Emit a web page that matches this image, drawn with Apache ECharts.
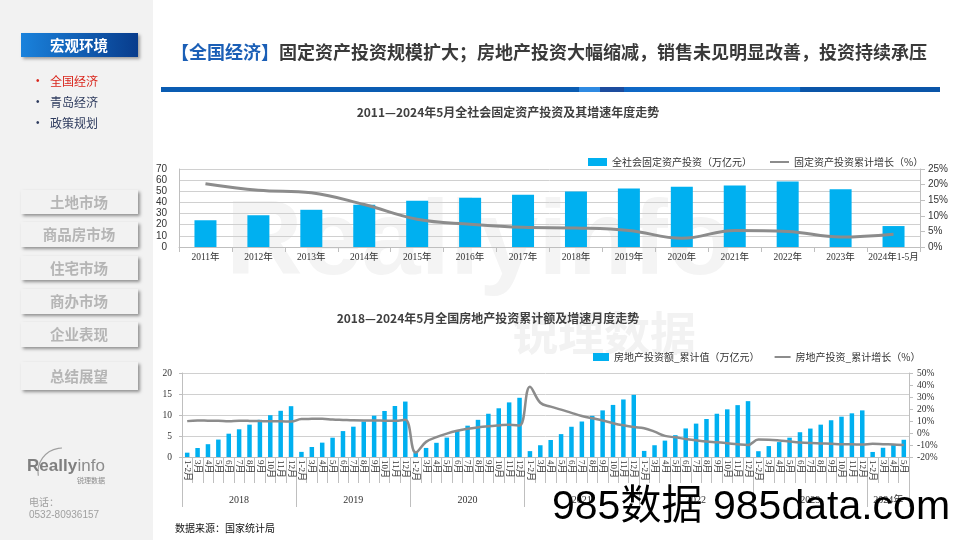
<!DOCTYPE html>
<html><head><meta charset="utf-8">
<script src="https://cdn.jsdelivr.net/npm/echarts@6/dist/echarts.min.js"></script>
<style>html,body{margin:0;padding:0;background:#fff;}#c{width:960px;height:540px;}</style>
</head><body><div id="c"></div>
<script>
// ---------- Chart 1 data ----------
const faiYears = ['2011年','2012年','2013年','2014年','2015年','2016年','2017年','2018年','2019年','2020年','2021年','2022年','2023年','2024年1-5月'];
const faiValue = [24.0, 28.5, 33.4, 37.9, 41.5, 44.2, 47.0, 49.7, 52.5, 54.0, 55.2, 58.8, 51.8, 18.8];
const faiGrowth = [20.3, 18.2, 17.4, 13.6, 8.9, 7.3, 6.3, 6.1, 5.3, 2.8, 5.3, 5.0, 3.2, 4.1];

// ---------- Chart 2 data ----------
const yearGroups = ['2018','2019','2020','2021','2022','2023','2024年'];
const months11 = ['1-2月','3月','4月','5月','6月','7月','8月','9月','10月','11月','12月'];
const months2024 = ['1-2月','3月','4月','5月'];
const reInvest2018 = [1.03, 2.14, 3.05, 4.15, 5.55, 6.6, 7.7, 8.86, 9.95, 11.0, 12.1];
const reInvest2019 = [1.22, 2.38, 3.42, 4.6, 6.17, 7.22, 8.45, 9.84, 10.96, 12.14, 13.2];
const reInvest2020 = [1.0, 2.16, 3.38, 4.62, 6.28, 7.46, 8.85, 10.3, 11.6, 13.0, 14.1];
const reInvest2021 = [1.4, 2.8, 4.05, 5.45, 7.2, 8.45, 9.8, 11.1, 12.4, 13.7, 14.8];
const reInvest2022 = [1.45, 2.8, 3.9, 5.2, 6.8, 7.95, 9.05, 10.3, 11.35, 12.35, 13.3];
const reInvest2023 = [1.38, 2.6, 3.55, 4.6, 5.9, 6.77, 7.7, 8.75, 9.6, 10.4, 11.1];
const reInvest2024 = [1.2, 2.2, 3.0, 4.1];
const reGrowth2018 = [9.9, 10.4, 10.3, 10.2, 9.7, 10.2, 10.1, 9.9, 9.7, 9.7, 9.5];
const reGrowth2019 = [11.6, 11.8, 11.9, 11.2, 10.9, 10.6, 10.5, 10.5, 10.3, 10.2, 11.0];
const reGrowth2020 = [-16.3, -7.4, -3.5, -0.5, 1.8, 3.5, 4.7, 5.6, 6.3, 6.9, 6.3];
const reGrowth2021 = [38.6, 25.2, 22.0, 19.5, 16.8, 14.2, 12.3, 10.4, 8.2, 6.4, 5.0];
const reGrowth2022 = [4.0, 1.1, -2.4, -3.6, -5.0, -6.1, -7.1, -7.7, -8.5, -9.4, -10.0];
const reGrowth2023 = [-5.5, -5.6, -6.2, -7.1, -7.9, -8.4, -8.7, -9.0, -9.3, -9.4, -9.6];
const reGrowth2024 = [-9.0, -9.3, -9.6, -9.9];

const monthGroups = [months11, months11, months11, months11, months11, months11, months2024];
const monthCats = [].concat(...monthGroups);
const reInvest = [].concat(reInvest2018, reInvest2019, reInvest2020, reInvest2021, reInvest2022, reInvest2023, reInvest2024);
const reGrowth = [].concat(reGrowth2018, reGrowth2019, reGrowth2020, reGrowth2021, reGrowth2022, reGrowth2023, reGrowth2024);

// group boundaries and centers on a 0..N value scale
const groupBounds = [0];
monthGroups.forEach(g => groupBounds.push(groupBounds[groupBounds.length - 1] + g.length));
const groupCenters = monthGroups.map((g, i) => groupBounds[i] + g.length / 2);

const SERIF = '"Liberation Serif","DejaVu Serif","Noto Sans CJK SC",serif';
const SANS = '"Liberation Sans",Arial,"Noto Sans CJK SC",sans-serif';
const CJK = '"Noto Sans CJK SC","Liberation Sans",sans-serif';
const BLUE = '#00b0f0';
const GREY = '#8c8c8c';
const AX = '#bfbfbf';

function txt(text, x, y, font, fill, align, extra) {
  return Object.assign({
    type: 'text', x: 0, y: 0,
    style: { text: text, x: x, y: y, font: font, fill: fill,
      align: align || 'left', textAlign: align || 'left',
      verticalAlign: 'middle', textVerticalAlign: 'middle' }
  }, extra || {});
}

const graphics = [];
// watermark background
graphics.push(txt('Reallyinfo', 226, 245, 'bold 106px ' + SANS, '#f4f4f4', 'left', { z: -10 }));
graphics.push(txt('锐理数据', 512, 333, 'bold 46px ' + CJK, '#f2f2f2', 'left', { z: -10 }));
// sidebar
graphics.push({ type: 'rect', z: -20, shape: { x: 0, y: 0, width: 153, height: 540 }, style: { fill: '#f2f2f2' } });
graphics.push({ type: 'rect', z: -5, shape: { x: 21, y: 33, width: 117, height: 24 },
  style: { fill: new echarts.graphic.LinearGradient(0, 0, 1, 0, [{ offset: 0, color: '#1a82dc' }, { offset: 1, color: '#083c8c' }]),
    shadowBlur: 3, shadowOffsetX: 2, shadowOffsetY: 2, shadowColor: 'rgba(0,0,0,0.35)' } });
graphics.push(txt('宏观环境', 79, 45.5, 'bold 14.5px ' + CJK, '#ffffff', 'center'));
const subItems = ['全国经济', '青岛经济', '政策规划'];
const subY = [81, 102, 123];
subItems.forEach((s, i) => {
  const col = i === 0 ? '#d9261c' : '#2e3b5e';
  graphics.push(txt('•', 36, subY[i], '10px ' + SANS, col, 'left'));
  graphics.push(txt(s, 50, subY[i], '12px ' + CJK, col, 'left'));
});
const navItems = ['土地市场', '商品房市场', '住宅市场', '商办市场', '企业表现', '总结展望'];
const navY = [190, 222, 256, 289, 322, 362];
const navH = [24, 25, 24, 25, 25, 28];
navItems.forEach((s, i) => {
  graphics.push({ type: 'rect', z: -5, shape: { x: 21, y: navY[i], width: 117, height: navH[i] },
    style: { fill: '#f2f2f2', shadowBlur: 3, shadowOffsetX: 2, shadowOffsetY: 2, shadowColor: 'rgba(0,0,0,0.4)' } });
  graphics.push(txt(s, 79, navY[i] + navH[i] / 2, 'bold 14.5px ' + CJK, '#b5b5b5', 'center'));
});
// logo + contact
graphics.push({ type: 'arc', shape: { cx: 62, cy: 472, r: 24, startAngle: Math.PI * 0.95, endAngle: Math.PI * 1.5 },
  style: { stroke: '#a0a0a0', lineWidth: 1.2, fill: null } });
graphics.push(txt('Really', 27, 466, 'bold 17px ' + SANS, '#7f7f7f', 'left'));
graphics.push(txt('info', 77.5, 466, '17px ' + SANS, '#8c8c8c', 'left'));
graphics.push(txt('锐理数据', 77, 480, '7px ' + CJK, '#8c8c8c', 'left'));
graphics.push(txt('电话：', 29, 502, '10px ' + CJK, '#a0a0a0', 'left'));
graphics.push(txt('0532-80936157', 29, 515, '10px ' + SANS, '#a0a0a0', 'left'));
// header
graphics.push(txt('【全国经济】', 171, 52, 'bold 18px ' + CJK, '#1b5fb6', 'left'));
graphics.push(txt('固定资产投资规模扩大；房地产投资大幅缩减，销售未见明显改善，投资持续承压', 279, 52, 'bold 18px ' + CJK, '#3a3a3a', 'left'));
graphics.push({ type: 'rect', shape: { x: 161, y: 87, width: 779, height: 5 },
  style: { fill: new echarts.graphic.LinearGradient(0, 0, 1, 0, [
    { offset: 0, color: '#0a5cb2' }, { offset: 0.536, color: '#0a5cb2' },
    { offset: 0.537, color: '#2f8ae2' }, { offset: 0.563, color: '#2f8ae2' },
    { offset: 0.564, color: '#1d4c9e' }, { offset: 0.594, color: '#1d4c9e' },
    { offset: 0.595, color: '#0e66c4' }, { offset: 0.82, color: '#1479d8' },
    { offset: 0.821, color: '#0a55a8' }, { offset: 1, color: '#0a55a8' }]) } });
graphics.push(txt('2011—2024年5月全社会固定资产投资及其增速年度走势', 508, 112, 'bold 12px ' + CJK, '#404040', 'center'));
graphics.push(txt('2018—2024年5月全国房地产投资累计额及增速月度走势', 488, 318, 'bold 12px ' + CJK, '#404040', 'center'));
graphics.push(txt('数据来源：国家统计局', 175, 528, '10px ' + CJK, '#111', 'left'));
// overlay watermark text
graphics.push(txt('985数据', 552, 508, '41px ' + SANS, '#000', 'left', { z: 100 }));
graphics.push(txt('985data.com', 713, 508, '41px ' + SANS, '#000', 'left', { z: 100 }));

const option = {
  animation: false,
  backgroundColor: 'transparent',
  graphic: { elements: graphics },
  legend: [
    { left: 583, top: 152, itemWidth: 19, itemHeight: 8, itemGap: 17,
      textStyle: { fontSize: 10, color: '#333', fontFamily: CJK },
      data: [{ name: '全社会固定资产投资（万亿元）', icon: 'rect' },
             { name: '固定资产投资累计增长（%）', itemStyle: { opacity: 0 } }] },
    { left: 588, top: 347, itemWidth: 16, itemHeight: 8, itemGap: 14,
      textStyle: { fontSize: 10, color: '#333', fontFamily: CJK },
      data: [{ name: '房地产投资额_累计值（万亿元）', icon: 'rect' },
             { name: '房地产投资_累计增长（%）', itemStyle: { opacity: 0 } }] }
  ],
  grid: [
    { left: 179, right: 40, top: 169, bottom: 293, containLabel: false },
    { left: 182, right: 51, top: 373, bottom: 83, containLabel: false }
  ],
  xAxis: [
    { type: 'category', gridIndex: 0, data: faiYears,
      axisLine: { lineStyle: { color: AX } },
      axisTick: { show: true, length: 5, lineStyle: { color: AX } },
      axisLabel: { fontSize: 9.5, color: '#333', fontFamily: SERIF, margin: 6, interval: 0 } },
    { type: 'category', gridIndex: 1, data: monthCats,
      axisLine: { lineStyle: { color: AX } },
      axisTick: { show: true, interval: 0, length: 26, lineStyle: { color: AX } },
      axisLabel: { fontSize: 9, color: '#333', fontFamily: SERIF, rotate: -90, margin: 3, interval: 0 } },
    { type: 'value', gridIndex: 1, position: 'bottom', min: 0, max: groupBounds[groupBounds.length - 1],
      axisLine: { show: false }, splitLine: { show: false }, axisTick: { show: false },
      axisLabel: { show: true, customValues: groupCenters, margin: 38, fontSize: 10, color: '#333', fontFamily: SERIF,
        formatter: function (v) { const i = groupCenters.indexOf(v); return i >= 0 ? yearGroups[i] : ''; } } },
    { type: 'category', gridIndex: 1, position: 'bottom', data: monthCats,
      axisLine: { show: false }, splitLine: { show: false }, axisLabel: { show: false },
      axisTick: { show: true, length: 50, lineStyle: { color: AX },
        interval: function (i) { return groupBounds.indexOf(i) >= 0; } } }
  ],
  yAxis: [
    { type: 'value', gridIndex: 0, min: 0, max: 70, interval: 10,
      axisLine: { show: true, lineStyle: { color: AX } }, axisTick: { show: false },
      splitLine: { lineStyle: { color: '#d0d0d0' } },
      axisLabel: { fontSize: 10, color: '#333', fontFamily: SANS, margin: 12 } },
    { type: 'value', gridIndex: 0, min: 0, max: 25, interval: 5, position: 'right',
      axisLine: { show: true, lineStyle: { color: AX } }, axisTick: { show: true, lineStyle: { color: AX } },
      splitLine: { show: false },
      axisLabel: { fontSize: 10, color: '#333', fontFamily: SANS, margin: 8, formatter: '{value}%' } },
    { type: 'value', gridIndex: 1, min: 0, max: 20, interval: 5,
      axisLine: { show: true, lineStyle: { color: AX } }, axisTick: { show: true, inside: false, length: 3, lineStyle: { color: AX } },
      splitLine: { lineStyle: { color: '#d0d0d0' } },
      axisLabel: { fontSize: 9.5, color: '#333', fontFamily: SERIF, margin: 10 } },
    { type: 'value', gridIndex: 1, min: -20, max: 50, interval: 10, position: 'right',
      axisLine: { show: true, lineStyle: { color: AX } }, axisTick: { show: true, length: 4, lineStyle: { color: AX } },
      splitLine: { show: false },
      axisLabel: { fontSize: 9.5, color: '#333', fontFamily: SERIF, margin: 8, formatter: '{value}%' } }
  ],
  series: [
    { name: '全社会固定资产投资（万亿元）', type: 'bar', xAxisIndex: 0, yAxisIndex: 0, data: faiValue,
      barWidth: 22, itemStyle: { color: BLUE } },
    { name: '固定资产投资累计增长（%）', type: 'line', xAxisIndex: 0, yAxisIndex: 1, data: faiGrowth,
      smooth: 0.4, symbol: 'none', lineStyle: { color: GREY, width: 3 }, itemStyle: { color: GREY } },
    { name: '房地产投资额_累计值（万亿元）', type: 'bar', xAxisIndex: 1, yAxisIndex: 2, data: reInvest,
      barWidth: 4.5, itemStyle: { color: BLUE } },
    { name: '房地产投资_累计增长（%）', type: 'line', xAxisIndex: 1, yAxisIndex: 3, data: reGrowth,
      smooth: 0.4, symbol: 'none', lineStyle: { color: GREY, width: 2.5 }, itemStyle: { color: GREY } }
  ]
};
const chart = echarts.init(document.getElementById('c'));
chart.setOption(option);
</script>
</body></html>
